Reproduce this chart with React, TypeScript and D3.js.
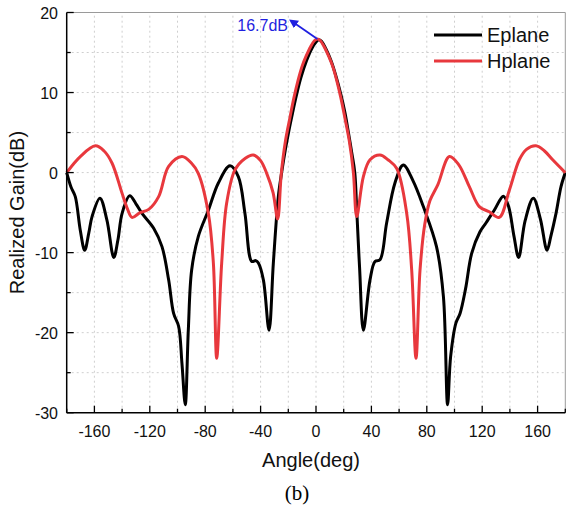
import React from "react";
import * as d3 from "d3";

// Eplane (black) — angle (deg), realized gain (dB)
const eAngles = [-180, -176.9, -173.8, -170.2, -167, -164, -161.7, -156, -151, -146, -143, -140, -134.5, -130, -125.6, -117.2, -111.2, -106.4, -102.8, -99.2, -96.8, -94.4, -92.2, -89.8, -85, -77.7, -70.5, -62.1, -56.1, -51.3, -46.4, -43.5, -41.6, -38, -33.9, -30.8, -27.2, -24.8, -22, -19.4, -17, -14.2, -11, -6.8, -3, 0, 2, 4, 7, 10.8, 14, 18.2, 21, 23.4, 26, 28, 29.5, 31.5, 34.2, 39, 42.6, 46.2, 51, 57, 63, 70, 77.5, 87, 92, 95, 97.2, 101, 104, 108, 112.4, 118.4, 122.7, 128.7, 135.3, 139, 143, 146.3, 151, 156.9, 162, 166.8, 169.5, 173.3, 176.9, 180];
const eGain = [0, -1.8, -3, -7.2, -9.7, -7.5, -5.5, -3.2, -5.9, -10.6, -8.4, -5.1, -2.9, -3.9, -5.1, -6.95, -9.25, -13.4, -17.6, -19.2, -23.8, -29, -19.7, -12.2, -8, -4.7, -1.3, 0.84, -0.5, -5.1, -11.1, -11.0, -11.3, -13.4, -19.7, -11.3, -3, 0, 3.0, 5.4, 7.4, 9.6, 11.8, 14.0, 15.5, 16.3, 16.6, 16.4, 15.5, 14.0, 12.3, 9.6, 7.4, 5.0, 2.3, 0, -5, -12, -19.7, -13.4, -11.1, -10.9, -6.3, -1.3, 0.96, -1.0, -4.25, -9.25, -15.5, -29, -23, -18.8, -17.6, -14.5, -10.1, -7.4, -6.3, -4.7, -2.95, -4.2, -8.0, -10.6, -6.0, -3.2, -5.8, -9.7, -8.0, -5.1, -1.75, 0];

// Hplane (red)
const hAngles = [-180, -170.2, -159.3, -153, -147.3, -140, -136, -132.9, -127, -120.8, -113.6, -106.4, -96.8, -90, -85, -77.7, -74.1, -71.7, -68.1, -64.5, -58.5, -51, -45.3, -40, -35.6, -31, -27.7, -25, -22, -19, -16, -13, -10, -7, -4, -1, 1, 3, 6, 9, 12, 15, 18, 21, 24, 27, 29.4, 34.2, 39, 46.2, 52, 58.3, 65.5, 69.1, 72.2, 75.1, 78.5, 82.3, 88, 96.3, 103, 110.7, 117.9, 125.1, 132.3, 139.6, 146.8, 152, 158.8, 165, 170.9, 180];
const hGain = [0, 2.0, 3.34, 2.7, 1.2, -2.6, -4.6, -5.6, -5.0, -4.6, -3.0, 0.76, 2.0, 1.2, -0.1, -5.1, -11.3, -23.2, -11.3, -3.8, 0.34, 1.8, 2.2, 1.5, -0.1, -2.5, -5.8, 0, 4, 6.7, 9.3, 11.5, 13.3, 14.6, 15.7, 16.5, 16.7, 16.5, 15.7, 14.6, 13.3, 11.5, 9.3, 6.7, 4, 0, -5.5, -0.5, 1.6, 2.2, 1.6, 0.5, -5.1, -12.2, -23.2, -12.2, -6.5, -3.5, -1.5, 2.0, 1.0, -1.75, -4.25, -4.9, -5.6, -2.2, 1.6, 2.9, 3.34, 2.7, 1.6, 0];

const xTicks = [-160, -120, -80, -40, 0, 40, 80, 120, 160];
const yTicks = [-30, -20, -10, 0, 10, 20];
const xMinor = [-180, -140, -100, -60, -20, 20, 60, 100, 140, 180];
const yMinor = [-25, -15, -5, 5, 15];
const seriesNames = ["Eplane", "Hplane"];
const peakAngle = 1;
const peakGain = 16.7;
const peakLabel = "16.7dB";

const W = 566;
const H = 512;
const M = { left: 66.7, right: 0.7, top: 12.5, bottom: 99.3 };

export default function App() {
  const x = d3.scaleLinear().domain([-180, 180]).range([M.left, W - M.right]);
  const y = d3.scaleLinear().domain([-30, 20]).range([H - M.bottom, M.top]);

  const mk = (angles: number[], gains: number[]) =>
    d3
      .line<[number, number]>()
      .x((d) => x(d[0]))
      .y((d) => y(d[1]))
      .curve(d3.curveCatmullRom.alpha(0.5))(angles.map((a, i) => [a, gains[i]] as [number, number])) || "";

  const ePath = mk(eAngles, eGain);
  const hPath = mk(hAngles, hGain);

  const font = "Arial, 'Liberation Sans', Helvetica, sans-serif";
  const x0 = x(-180);
  const x1 = x(180);
  const y0 = y(-30);
  const y1 = y(20);
  const gridX = [...xTicks, ...xMinor].filter((v) => v > -180 && v < 180);
  const gridY = [...yTicks, ...yMinor].filter((v) => v > -30 && v < 20);
  const red = "#e8383d";
  const blue = "#1f1fe0";

  const px = x(peakAngle);
  const py = y(peakGain);
  const ax = 292;
  const ay = 22;

  return (
    <svg width={W} height={H} style={{ position: "absolute", left: 0, top: 0, background: "#fff" }}>
      <defs>
        <marker id="arr" viewBox="0 0 10 10" refX="2" refY="5" markerWidth="5" markerHeight="5" orient="auto-start-reverse">
          <path d="M0,0 L10,5 L0,10 z" fill={blue} />
        </marker>
      </defs>
      <rect x={0} y={0} width={W} height={H} fill="#fff" />
      {gridX.map((v) => (
        <line key={"gx" + v} x1={x(v)} x2={x(v)} y1={y0} y2={y1} stroke="#cfcfcf" strokeWidth={1} strokeDasharray="2,3" />
      ))}
      {gridY.map((v) => (
        <line key={"gy" + v} x1={x0} x2={x1} y1={y(v)} y2={y(v)} stroke="#cfcfcf" strokeWidth={1} strokeDasharray="2,3" />
      ))}
      {/* frame */}
      <line x1={x0} x2={x1} y1={y1} y2={y1} stroke="#9a9a9a" strokeWidth={1} />
      <line x1={x1} x2={x1} y1={y1} y2={y0} stroke="#9a9a9a" strokeWidth={1} />
      {/* curves */}
      <path d={ePath} fill="none" stroke="#000" strokeWidth={3} strokeLinejoin="round" />
      <path d={hPath} fill="none" stroke={red} strokeWidth={3} strokeLinejoin="round" />
      {/* axes */}
      <line x1={x0} x2={x1} y1={y0} y2={y0} stroke="#000" strokeWidth={1.5} />
      <line x1={x0} x2={x0} y1={y0} y2={y1} stroke="#000" strokeWidth={1.5} />
      {xTicks.map((v) => (
        <g key={"xt" + v}>
          <line x1={x(v)} x2={x(v)} y1={y0} y2={y0 - 7} stroke="#000" strokeWidth={1.3} />
          <text x={x(v)} y={437} textAnchor="middle" fontFamily={font} fontSize={16} fill="#111">
            {v}
          </text>
        </g>
      ))}
      {xMinor.map((v) => (
        <line key={"xm" + v} x1={x(v)} x2={x(v)} y1={y0} y2={y0 - 4} stroke="#000" strokeWidth={1.3} />
      ))}
      {yTicks.map((v) => (
        <g key={"yt" + v}>
          <line x1={x0} x2={x0 + 7} y1={y(v)} y2={y(v)} stroke="#000" strokeWidth={1.3} />
          <text x={58} y={y(v) + 6} textAnchor="end" fontFamily={font} fontSize={16} fill="#111">
            {v}
          </text>
        </g>
      ))}
      {yMinor.map((v) => (
        <line key={"ym" + v} x1={x0} x2={x0 + 4} y1={y(v)} y2={y(v)} stroke="#000" strokeWidth={1.3} />
      ))}
      {/* axis labels */}
      <text x={311} y={467} textAnchor="middle" fontFamily={font} fontSize={20} fill="#111">
        Angle(deg)
      </text>
      <text
        transform={`translate(24, ${(y0 + y1) / 2}) rotate(-90)`}
        textAnchor="middle"
        fontFamily={font}
        fontSize={20}
        fill="#111"
      >
        Realized Gain(dB)
      </text>
      <text x={297} y={500} textAnchor="middle" fontFamily="'Times New Roman', 'Liberation Serif', serif" fontSize={21} fill="#000">
        (b)
      </text>
      {/* annotation */}
      <line x1={px} y1={py} x2={ax + 3} y2={ay + 1.5} stroke={blue} strokeWidth={1.8} markerEnd="url(#arr)" />
      <text x={288} y={31} textAnchor="end" fontFamily={font} fontSize={16} fill={blue}>
        {peakLabel}
      </text>
      {/* legend */}
      {seriesNames.map((n, i) => (
        <g key={n}>
          <line x1={434} x2={482} y1={35 + i * 26} y2={35 + i * 26} stroke={i === 0 ? "#000" : red} strokeWidth={3} />
          <text x={487} y={42 + i * 26} fontFamily={font} fontSize={20} fill="#111">
            {n}
          </text>
        </g>
      ))}
    </svg>
  );
}
